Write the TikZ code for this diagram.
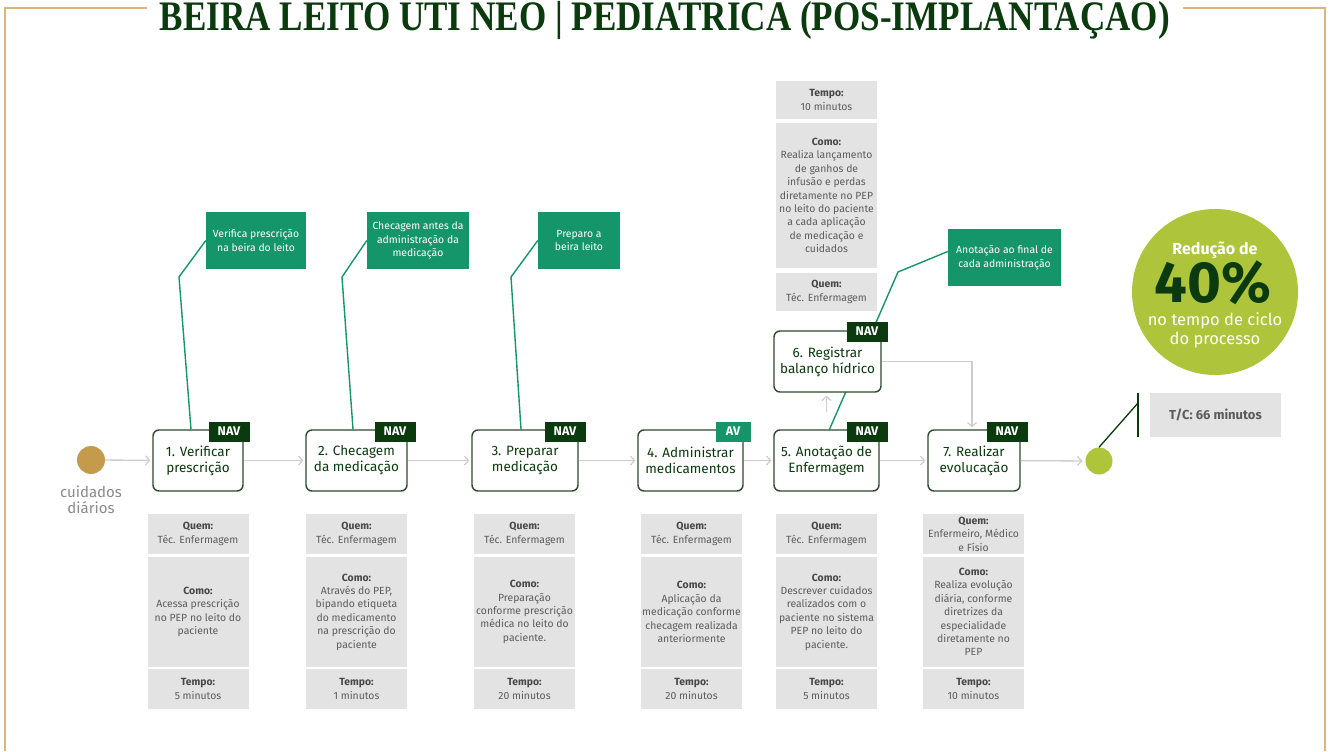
\documentclass[tikz,border=0pt]{standalone}
\usepackage{fontspec}
\setmainfont{Fira Sans}
\newfontfamily\titlefont{Liberation Serif}
\usetikzlibrary{arrows.meta,calc}
\definecolor{dkgreen}{HTML}{0B3A0E}
\definecolor{boxgreen}{HTML}{2C4A2C}
\definecolor{callgreen}{HTML}{14966A}
\definecolor{infogray}{HTML}{E3E3E4}
\definecolor{txtgray}{HTML}{5C5C5C}
\definecolor{lblgray}{HTML}{474747}
\definecolor{lime}{HTML}{AEC53B}
\definecolor{tanc}{HTML}{C49B4C}
\definecolor{frametan}{HTML}{D9B877}
\definecolor{flowgray}{HTML}{CDCDCD}
\definecolor{startlbl}{HTML}{8A8A8A}
\newcommand\lb[1]{{\color{lblgray}\bfseries #1}}
\pgfdeclarelayer{back}
\pgfdeclarelayer{bg}
\pgfsetlayers{back,bg,main}
\begin{document}
\begin{tikzpicture}[x=1pt,y=-1pt,
  proc/.style={draw=boxgreen, line width=1.4pt, rounded corners=6pt, fill=white, minimum height=61pt, inner sep=0pt, align=center, text=dkgreen, font=\fontsize{13.5}{16}\selectfont},
  navtag/.style={fill=dkgreen, text=white, font=\fontsize{12.5}{14}\selectfont\bfseries, minimum width=41pt, minimum height=20pt, inner sep=0pt, anchor=north east},
  avtag/.style={navtag, fill=callgreen, minimum width=35pt},
  info/.style={fill=infogray, minimum width=101pt, inner sep=0pt, align=center, text=txtgray, font=\fontsize{10.4}{13.4}\selectfont},
  callout/.style={fill=callgreen, text=white, align=center, inner sep=0pt, minimum height=57pt, font=\fontsize{10.4}{13.8}\selectfont},
  flow/.style={draw=flowgray, line width=1.3pt, -{Straight Barb[length=4pt,width=9pt,line width=1.2pt]}},
  leader/.style={draw=callgreen, line width=1.4pt},
  ]
\begin{pgfonlayer}{back}
\path[fill=white, use as bounding box] (0,0) rectangle (1330,751);
\end{pgfonlayer}
% frame
\draw[frametan, line width=1.2pt] (147,8) -- (5,8) -- (5,751);
\draw[frametan, line width=1.2pt] (1183,8) -- (1325,8) -- (1325,751);
% title
\node[anchor=base, text=dkgreen, inner sep=0pt] (title) at (665,30.5)
  {\resizebox{1010pt}{\height}{\titlefont\fontsize{42}{44}\selectfont\bfseries BEIRA LEITO UTI NEO | PEDIATRICA (POS-IMPLANTAÇAO)}};

% start
\node[circle, fill=tanc, minimum size=28pt, inner sep=0pt] (sc) at (91,460) {};
\node[text=startlbl, align=center, font=\fontsize{15}{16}\selectfont] (sl) at (91,500) {cuidados\\diários};

% process boxes
\node[proc, minimum width=90pt]  (b1) at (198,460.5) {1. Verificar\\prescrição};
\node[proc, minimum width=101pt] (b2) at (356.5,460.5) {2. Checagem\\da medicação};
\node[proc, minimum width=106pt] (b3) at (525,460.5) {3. Preparar\\medicação};
\node[proc, minimum width=105pt] (b4) at (690.5,460.5) {4. Administrar\\medicamentos};
\node[proc, minimum width=105pt] (b5) at (826.5,460.5) {5. Anotação de\\Enfermagem};
\node[proc, minimum width=107pt] (b6) at (827.5,361.5) {6. Registrar\\balanço hídrico};
\node[proc, minimum width=92pt]  (b7) at (974,460.5) {7. Realizar\\evolucação};

\node[navtag] (t1) at ($(b1.north east)+(6,-8)$) {NAV};
\node[navtag] (t2) at ($(b2.north east)+(8,-8)$) {NAV};
\node[navtag] (t3) at ($(b3.north east)+(7,-8)$) {NAV};
\node[avtag]  (t4) at ($(b4.north east)+(7,-8)$) {AV};
\node[navtag] (t5) at ($(b5.north east)+(8,-8)$) {NAV};
\node[navtag] (t6) at ($(b6.north east)+(6,-9)$) {NAV};
\node[navtag] (t7) at ($(b7.north east)+(7,-8)$) {NAV};

% end
\node[circle, fill=lime, minimum size=27pt, inner sep=0pt] (ec) at (1099,461) {};

% flow
\draw[flow, shorten >=2pt] (sc) -- (b1);
\draw[flow, shorten >=2pt] (b1) -- (b2);
\draw[flow, shorten >=2pt] (b2) -- (b3);
\draw[flow, shorten >=2pt] (b3) -- (b4);
\draw[flow, shorten >=2pt] (b4) -- (b5);
\draw[flow, shorten >=2pt] (b5) -- (b7);
\draw[flow, shorten >=3pt] (b7) -- (ec);
\draw[flow, shorten <=17pt, shorten >=3pt] (b5.north) -- (b5.north |- b6.south);
\draw[flow, shorten >=2pt] (b6.east) -| ($(b7.north)+(-2,0)$);

% callouts
\node[callout, minimum width=100pt] (c1) at (256,240.5) {Verifica prescrição\\na beira do leito};
\node[callout, minimum width=102pt] (c2) at (418,240.5) {Checagem antes da\\administração da\\medicação};
\node[callout, minimum width=82pt]  (c3) at (579,240.5) {Preparo a\\beira leito};
\node[callout, minimum width=113pt] (c5) at (1004.5,257.5) {Anotação ao final de\\cada administração};

\begin{pgfonlayer}{bg}
\draw[leader] (c1.west) -- (179,277) -- ($(b1.north)+(-7,0)$);
\draw[leader] (c2.west) -- (342,277) -- ($(b2.north)+(-3.5,0)$);
\draw[leader] (c3.west) -- (511,277) -- ($(b3.north)+(-4,0)$);
\draw[leader] ($(c5.west)+(0,-6)$) -- (898,272) -- ($(b5.north)+(3,0)$);
\end{pgfonlayer}

% info stacks below
\node[info, minimum height=40pt] (q1) at (198,534) {\lb{Quem:}\\Téc. Enfermagem};
\node[info, minimum height=110pt] (m1) at (198,612) {\lb{Como:}\\Acessa prescrição\\no PEP no leito do\\paciente};
\node[info, minimum height=40pt] (p1) at (198,689) {\lb{Tempo:}\\5 minutos};

\node[info, minimum height=40pt] (q2) at (356.5,534) {\lb{Quem:}\\Téc. Enfermagem};
\node[info, minimum height=110pt] (m2) at (356.5,612) {\lb{Como:}\\Através do PEP,\\bipando etiqueta\\do medicamento\\na prescrição do\\paciente};
\node[info, minimum height=40pt] (p2) at (356.5,689) {\lb{Tempo:}\\1 minutos};

\node[info, minimum height=40pt] (q3) at (524.5,534) {\lb{Quem:}\\Téc. Enfermagem};
\node[info, minimum height=110pt] (m3) at (524.5,612) {\lb{Como:}\\Preparação\\conforme prescrição\\médica no leito do\\paciente.};
\node[info, minimum height=40pt] (p3) at (524.5,689) {\lb{Tempo:}\\20 minutos};

\node[info, minimum height=40pt] (q4) at (691.5,534) {\lb{Quem:}\\Téc. Enfermagem};
\node[info, minimum height=110pt] (m4) at (691.5,612) {\lb{Como:}\\Aplicação da\\medicação conforme\\checagem realizada\\anteriormente};
\node[info, minimum height=40pt] (p4) at (691.5,689) {\lb{Tempo:}\\20 minutos};

\node[info, minimum height=40pt] (q5) at (826.5,534) {\lb{Quem:}\\Téc. Enfermagem};
\node[info, minimum height=110pt] (m5) at (826.5,612) {\lb{Como:}\\Descrever cuidados\\realizados com o\\paciente no sistema\\PEP no leito do\\paciente.};
\node[info, minimum height=40pt] (p5) at (826.5,689) {\lb{Tempo:}\\5 minutos};

\node[info, minimum height=40pt] (q7) at (973.5,534) {\lb{Quem:}\\Enfermeiro, Médico\\e Físio};
\node[info, minimum height=110pt] (m7) at (973.5,612) {\lb{Como:}\\Realiza evolução\\diária, conforme\\diretrizes da\\especialidade\\diretamente no\\PEP};
\node[info, minimum height=40pt] (p7) at (973.5,689) {\lb{Tempo:}\\10 minutos};

% info stack above box 6
\node[info, minimum height=38pt] (p6) at (826.5,100) {\lb{Tempo:}\\10 minutos};
\node[info, minimum height=145pt] (m6) at (826.5,195.5) {\lb{Como:}\\Realiza lançamento\\de ganhos de\\infusão e perdas\\diretamente no PEP\\no leito do paciente\\a cada aplicação\\de medicação e\\cuidados};
\node[info, minimum height=38pt] (q6) at (826.5,292) {\lb{Quem:}\\Téc. Enfermagem};

% result circle
\node[circle, fill=lime, minimum size=166pt, inner sep=0pt] (rc) at (1215,292) {};
\node[anchor=base, text=white, inner sep=0pt, font=\fontsize{16}{18}\selectfont\bfseries] (r1) at (1215,254) {Redução de};
\node[anchor=base, text=dkgreen, inner sep=0pt, font=\fontsize{58}{58}\selectfont\bfseries] (r2) at (1213,302) {40\%};
\node[anchor=base, text=white, inner sep=0pt, font=\fontsize{16.5}{18}\selectfont] (r3) at (1215,325) {no tempo de ciclo};
\node[anchor=base, text=white, inner sep=0pt, font=\fontsize{16.5}{18}\selectfont] (r4) at (1215,344) {do processo};

% T/C
\node[fill=infogray, minimum width=131pt, minimum height=44pt, inner sep=0pt, text=txtgray, font=\fontsize{13}{15}\selectfont\bfseries] (tc) at (1215.5,415) {T/C: 66 minutos};
\coordinate (tbtop) at (1138,393);
\coordinate (tbbot) at (1138,437);
\coordinate (tbmid) at (1138,403);
\draw[dkgreen, line width=1.3pt] (tbtop) -- (tbbot);
\draw[dkgreen, line width=1.3pt] (ec.north) -- (tbmid);
\end{tikzpicture}
\end{document}
